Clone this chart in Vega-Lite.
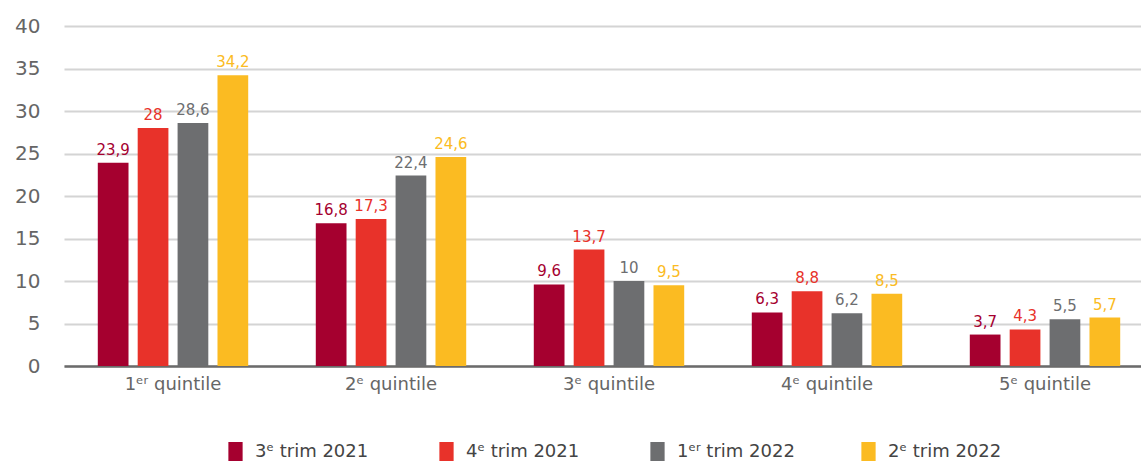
{
  "$schema": "https://vega.github.io/schema/vega-lite/v6.json",
  "width": 1077,
  "height": 340,
  "autosize": {"type": "none"},
  "padding": {"left": 64, "top": 26, "right": 0, "bottom": 97},
  "background": "white",
  "config": {
    "font": "DejaVu Sans",
    "view": {"stroke": null},
    "locale": {"number": {"decimal": ",", "thousands": " ", "grouping": [3], "currency": ["", " €"]}}
  },
  "data": {
    "values": [
      {"q": "1ᵉʳ quintile", "p": "3ᵉ trim 2021", "v": 23.9},
      {"q": "1ᵉʳ quintile", "p": "4ᵉ trim 2021", "v": 28},
      {"q": "1ᵉʳ quintile", "p": "1ᵉʳ trim 2022", "v": 28.6},
      {"q": "1ᵉʳ quintile", "p": "2ᵉ trim 2022", "v": 34.2},
      {"q": "2ᵉ quintile", "p": "3ᵉ trim 2021", "v": 16.8},
      {"q": "2ᵉ quintile", "p": "4ᵉ trim 2021", "v": 17.3},
      {"q": "2ᵉ quintile", "p": "1ᵉʳ trim 2022", "v": 22.4},
      {"q": "2ᵉ quintile", "p": "2ᵉ trim 2022", "v": 24.6},
      {"q": "3ᵉ quintile", "p": "3ᵉ trim 2021", "v": 9.6},
      {"q": "3ᵉ quintile", "p": "4ᵉ trim 2021", "v": 13.7},
      {"q": "3ᵉ quintile", "p": "1ᵉʳ trim 2022", "v": 10},
      {"q": "3ᵉ quintile", "p": "2ᵉ trim 2022", "v": 9.5},
      {"q": "4ᵉ quintile", "p": "3ᵉ trim 2021", "v": 6.3},
      {"q": "4ᵉ quintile", "p": "4ᵉ trim 2021", "v": 8.8},
      {"q": "4ᵉ quintile", "p": "1ᵉʳ trim 2022", "v": 6.2},
      {"q": "4ᵉ quintile", "p": "2ᵉ trim 2022", "v": 8.5},
      {"q": "5ᵉ quintile", "p": "3ᵉ trim 2021", "v": 3.7},
      {"q": "5ᵉ quintile", "p": "4ᵉ trim 2021", "v": 4.3},
      {"q": "5ᵉ quintile", "p": "1ᵉʳ trim 2022", "v": 5.5},
      {"q": "5ᵉ quintile", "p": "2ᵉ trim 2022", "v": 5.7}
    ]
  },
  "encoding": {
    "x": {
      "field": "q", "type": "nominal", "sort": null,
      "scale": {"paddingInner": 0.31, "paddingOuter": 0.155, "range": [0, 1090]},
      "axis": {
        "title": null, "labelAngle": 0, "ticks": false,
        "domainColor": "#6b6b6b", "domainWidth": 2.5,
        "labelFontSize": 18, "labelColor": "#666666", "labelPadding": 9
      }
    },
    "xOffset": {
      "field": "p", "type": "nominal", "sort": null,
      "scale": {"paddingInner": 0.23, "paddingOuter": 0}
    },
    "y": {
      "field": "v", "type": "quantitative",
      "scale": {"domain": [0, 40]},
      "axis": {
        "title": null, "domain": false, "ticks": false,
        "values": [0, 5, 10, 15, 20, 25, 30, 35, 40],
        "labelFontSize": 20, "labelColor": "#666666", "labelPadding": 24,
        "gridColor": "#d4d4d4", "gridWidth": 2
      }
    },
    "color": {
      "field": "p", "type": "nominal", "sort": null,
      "scale": {
        "domain": ["3ᵉ trim 2021", "4ᵉ trim 2021", "1ᵉʳ trim 2022", "2ᵉ trim 2022"],
        "range": ["#a5002f", "#e8322a", "#6d6e70", "#fbbb22"]
      },
      "legend": {
        "title": null, "orient": "none", "direction": "horizontal",
        "legendX": 162, "legendY": 416, "padding": 0,
        "symbolType": "M-0.75,-1H0.75V1H-0.75Z", "symbolSize": 361,
        "symbolStrokeWidth": 0, "symbolOpacity": 1,
        "labelFontSize": 18, "labelColor": "#444444", "labelOffset": 10,
        "columnPadding": 64, "gridAlign": "all", "columns": 4
      }
    }
  },
  "layer": [
    {"mark": {"type": "bar"}},
    {
      "mark": {"type": "text", "baseline": "bottom", "dy": -5, "fontSize": 15},
      "encoding": {"text": {"field": "v", "type": "quantitative", "format": ".1~f"}}
    }
  ]
}
